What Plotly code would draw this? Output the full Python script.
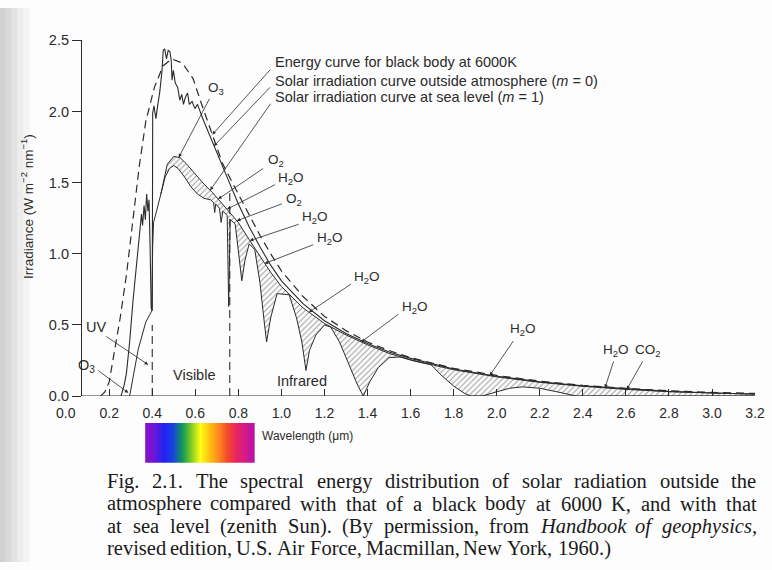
import plotly.graph_objects as go
import numpy as np

# ---------------------------------------------------------------
# Spectral irradiance (W m^-2 nm^-1) against wavelength (um)
# ---------------------------------------------------------------
# Black body at 6000 K (dashed)
bb_wl = [0.16, 0.18, 0.20, 0.22, 0.25, 0.28, 0.31, 0.34, 0.37, 0.41, 0.45, 0.49, 0.54,
         0.59, 0.625, 0.66, 0.69, 0.725, 0.765, 0.80, 0.85, 0.90, 0.95, 1.00, 1.10,
         1.20, 1.30, 1.40, 1.50, 1.60, 1.80, 2.00, 2.20, 2.40, 2.60, 2.80, 3.00, 3.20]
bb_irr = [0.0, 0.03, 0.10, 0.27, 0.54, 0.85, 1.25, 1.62, 1.93, 2.17, 2.32, 2.37, 2.34,
          2.23, 2.07, 1.92, 1.79, 1.64, 1.52, 1.42, 1.27, 1.13, 1.00, 0.88, 0.70,
          0.56, 0.46, 0.38, 0.32, 0.27, 0.195, 0.145, 0.105, 0.076, 0.054, 0.037, 0.026, 0.019]

# Solar irradiation outside the atmosphere (m = 0)
m0_wl = [0.255, 0.27, 0.28, 0.295, 0.31, 0.33, 0.345, 0.35, 0.355, 0.362, 0.368, 0.374,
         0.38, 0.385, 0.39, 0.395, 0.40, 0.402, 0.408, 0.417, 0.426, 0.435, 0.445, 0.451,
         0.458, 0.466, 0.474, 0.482, 0.488, 0.492, 0.498, 0.507, 0.518, 0.528, 0.537,
         0.545, 0.554, 0.564, 0.572, 0.585, 0.598, 0.61, 0.64, 0.67, 0.70, 0.75, 0.80,
         0.85, 0.90, 0.95, 1.00, 1.10, 1.20, 1.30, 1.40, 1.50, 1.60, 1.80, 2.00, 2.20,
         2.40, 2.60, 2.80, 3.00, 3.20]
m0_irr = [0.0, 0.08, 0.16, 0.38, 0.66, 0.95, 1.18, 1.28, 1.20, 1.34, 1.24, 1.42,
          1.30, 1.38, 1.05, 0.62, 0.60, 1.99, 2.04, 1.95, 2.05, 2.14, 2.28, 2.43,
          2.44, 2.37, 2.43, 2.42, 2.36, 2.22, 2.29, 2.20, 2.17, 2.08, 2.12,
          2.05, 2.10, 2.13, 2.05, 2.07, 2.02, 2.05, 1.93, 1.82, 1.70, 1.53, 1.35,
          1.19, 1.05, 0.92, 0.81, 0.65, 0.53, 0.44, 0.37, 0.31, 0.265, 0.19, 0.14, 0.10,
          0.072, 0.05, 0.033, 0.022, 0.015]

# Sea level (m = 1), smooth curve above the absorption bands
env_wl = [0.44, 0.47, 0.50, 0.53, 0.56, 0.60, 0.64, 0.68, 0.72, 0.76, 0.80, 0.85, 0.90,
          0.95, 1.00, 1.10, 1.20, 1.30, 1.40, 1.50, 1.60, 1.80, 2.00, 2.20, 2.40, 2.60,
          2.80, 3.00, 3.20]
env_irr = [1.42, 1.63, 1.685, 1.675, 1.63, 1.56, 1.49, 1.43, 1.36, 1.29, 1.22, 1.10, 0.98,
           0.87, 0.77, 0.62, 0.51, 0.43, 0.36, 0.30, 0.255, 0.185, 0.135, 0.097, 0.069,
           0.047, 0.031, 0.02, 0.013]

# Sea level (m = 1), with absorption
m1_wl = [0.295, 0.31, 0.335, 0.37, 0.398, 0.402, 0.406, 0.42, 0.44, 0.46, 0.48, 0.50,
         0.52, 0.55, 0.58, 0.61, 0.64, 0.67, 0.685, 0.69, 0.695, 0.712, 0.72, 0.728,
         0.748, 0.755, 0.762, 0.785, 0.80, 0.816, 0.83, 0.85, 0.876, 0.90, 0.918, 0.931,
         0.95, 0.98, 1.036, 1.07, 1.095, 1.114, 1.13, 1.16, 1.20, 1.229, 1.27, 1.32,
         1.35, 1.38, 1.41, 1.45, 1.50, 1.55, 1.62, 1.695, 1.74, 1.80, 1.85, 1.88, 1.93,
         2.00, 2.06, 2.12, 2.20, 2.28, 2.37, 3.20]
m1_irr = [0.0, 0.12, 0.33, 0.52, 0.60, 1.05, 1.22, 1.30, 1.42, 1.54, 1.60, 1.62,
          1.60, 1.54, 1.47, 1.42, 1.39, 1.38, 1.36, 1.29, 1.35, 1.32, 1.22, 1.30,
          1.27, 0.63, 1.24, 1.21, 1.02, 0.81, 0.95, 1.07, 1.03, 0.80, 0.55, 0.38,
          0.55, 0.72, 0.712, 0.55, 0.38, 0.18, 0.32, 0.43, 0.50, 0.485, 0.38, 0.20,
          0.09, 0.0, 0.10, 0.20, 0.27, 0.275, 0.245, 0.22, 0.15, 0.07, 0.02, 0.0, 0.0,
          0.03, 0.055, 0.065, 0.055, 0.03, 0.0, 0.0]

# Limits of the visible band, and how far up their dashed markers reach
visible_edges = [0.40, 0.76]
visible_edge_tops = [0.50, 1.45]

x_tick_vals = [0.2, 0.4, 0.6, 0.8, 1.0, 1.2, 1.4, 1.6, 1.8, 2.0, 2.2, 2.4, 2.6, 2.8, 3.0, 3.2]
x_tick_text = ["0.2", "0.4", "0.6", "0.8", "1.0", "1.2", "1.4", "1.6", "1.8", "2.0",
               "2.2", "2.4", "2.6", "2.8", "3.0", "3.2"]
y_tick_vals = [0.0, 0.5, 1.0, 1.5, 2.0, 2.5]
y_tick_text = ["0.0", "0.5", "1.0", "1.5", "2.0", "2.5"]

# Curve call-outs: text lines with leader arrows
curve_labels = ["Energy curve for black body at 6000K",
                "Solar irradiation curve outside atmosphere (<i>m</i> = 0)",
                "Solar irradiation curve at sea level (<i>m</i> = 1)"]
curve_label_wl = [0.962, 0.962, 0.962]
curve_label_irr = [2.345, 2.215, 2.099]
curve_tail_wl = [0.954, 0.954, 0.954]
curve_tail_irr = [2.304, 2.181, 2.065]
curve_tip_wl = [0.679, 0.686, 0.669]

# Absorption-band call-outs
band_labels = ["O<sub>3</sub>", "O<sub>2</sub>", "H<sub>2</sub>O", "O<sub>2</sub>",
               "H<sub>2</sub>O", "H<sub>2</sub>O", "H<sub>2</sub>O", "H<sub>2</sub>O",
               "H<sub>2</sub>O", "H<sub>2</sub>O", "CO<sub>2</sub>"]
band_label_wl = [0.697, 0.977, 1.045, 1.059, 1.155, 1.224, 1.398, 1.619, 2.123, 2.554, 2.701]
band_label_irr = [2.16, 1.655, 1.530, 1.385, 1.252, 1.109, 0.836, 0.624, 0.467, 0.317, 0.317]
band_tail_wl = [0.669, 0.922, 0.977, 1.009, 1.087, 1.155, 1.330, 1.550, 2.082, 2.545, 2.682]
band_tail_irr = [2.099, 1.607, 1.491, 1.355, 1.211, 1.068, 0.794, 0.583, 0.398, 0.255, 0.255]
band_tip_wl = [0.523, 0.706, 0.747, 0.793, 0.853, 0.922, 1.128, 1.371, 1.967, 2.503, 2.604]

# Region labels near the axis, some with arrows
region_labels = ["UV", "O<sub>3</sub>", "Visible", "Infrared"]
region_label_wl = [0.138, 0.096, 0.596, 1.096]
region_label_irr = [0.487, 0.214, 0.146, 0.105]
region_tail_wl = [0.179, 0.142]
region_tail_irr = [0.426, 0.187]
region_tip_wl = [0.381, 0.289]
region_tip_irr = [0.221, 0.023]

# Visible spectrum strip, violet to red
spectrum_colors = ["#8e10c4", "#6a18dc", "#2222f2", "#1840e0", "#129a58", "#86cc22",
                   "#ffff14", "#ffc012", "#ff8a1e", "#f24a2c", "#e82460", "#d41a8a", "#b010b0"]

caption_lines = [
    "Fig. 2.1. The spectral energy distribution of solar radiation outside the",
    "atmosphere compared with that of a black body at 6000 K, and with that",
    "at sea level (zenith Sun). (By permission, from *Handbook *of *geophysics,",
    "revised edition, U.S. Air Force, Macmillan, New York, 1960.)",
]
caption_justified = [True, True, True, False]

# ---------------------------------------------------------------
# Page geometry (pixels)
# ---------------------------------------------------------------
W, H = 772, 570
PLOT_L, PLOT_R = 67, 765          # wavelength 0 .. 3.2
PLOT_B, PLOT_T = 399.3, 33.3      # irradiance 0 .. 2.5
YAXIS_PX = 82                     # where the irradiance axis is drawn
INK = "#2b2b2b"
SANS = "Liberation Sans"
SERIF = "Liberation Serif"
LABEL_SIZE = 14.5
BAND_SIZE = 13.5


def fx(p):
    return p / W


def fy(p):
    return 1 - p / H


fig = go.Figure()

# Hatched absorption: between the smooth sea-level curve and the absorbed one
m1_arr = np.array(m1_wl)
mask = m1_arr >= env_wl[0]
fig.add_trace(go.Scatter(x=env_wl, y=env_irr, mode="lines", line=dict(width=0),
                         hoverinfo="skip", showlegend=False))
fig.add_trace(go.Scatter(x=m1_arr[mask], y=np.array(m1_irr)[mask], mode="lines",
                         line=dict(width=0), fill="tonexty",
                         fillcolor="rgba(0,0,0,0)",
                         fillpattern=dict(shape="/", fgcolor="#444444",
                                          bgcolor="rgba(0,0,0,0)", size=4, solidity=0.28),
                         hoverinfo="skip", showlegend=False))

fig.add_trace(go.Scatter(x=bb_wl, y=bb_irr, mode="lines", name="Black body 6000 K",
                         line=dict(color=INK, width=1.2, dash="8px,5px"), showlegend=False))
fig.add_trace(go.Scatter(x=m0_wl, y=m0_irr, mode="lines", name="m = 0",
                         line=dict(color=INK, width=1.1), showlegend=False))
fig.add_trace(go.Scatter(x=env_wl, y=env_irr, mode="lines", name="m = 1 envelope",
                         line=dict(color=INK, width=1.0), showlegend=False))
fig.add_trace(go.Scatter(x=m1_wl, y=m1_irr, mode="lines", name="m = 1",
                         line=dict(color=INK, width=1.0), showlegend=False))

for edge, top in zip(visible_edges, visible_edge_tops):
    fig.add_trace(go.Scatter(x=[edge, edge], y=[0, top], mode="lines",
                             line=dict(color=INK, width=1.1, dash="8px,5px"),
                             hoverinfo="skip", showlegend=False))

# Spectrum strip under the axis
n_col = len(spectrum_colors)
fig.add_trace(go.Heatmap(
    x=list(range(n_col)), y=[0, 1], z=[list(range(n_col)), list(range(n_col))],
    colorscale=[[i / (n_col - 1), c] for i, c in enumerate(spectrum_colors)],
    zsmooth="best", showscale=False, hoverinfo="skip", xaxis="x2", yaxis="y2"))

annotations = []
font_lab = dict(family=SANS, size=LABEL_SIZE, color=INK)
font_band = dict(family=SANS, size=BAND_SIZE, color=INK)


def arrow(tail_x, tail_y, tip_x, tip_y):
    return dict(x=tip_x, y=tip_y, ax=tail_x, ay=tail_y, xref="x", yref="y",
                axref="x", ayref="y", text="", showarrow=True, arrowhead=2,
                arrowsize=0.9, arrowwidth=0.8, arrowcolor=INK)


curve_tip_irr = [np.interp(curve_tip_wl[0], bb_wl, bb_irr),
                 np.interp(curve_tip_wl[1], m0_wl, m0_irr),
                 np.interp(curve_tip_wl[2], env_wl, env_irr)]
for t, lx, ly, tx, ty, hx, hy in zip(curve_labels, curve_label_wl, curve_label_irr,
                                     curve_tail_wl, curve_tail_irr, curve_tip_wl, curve_tip_irr):
    annotations.append(dict(x=lx, y=ly, xref="x", yref="y", text=t, showarrow=False,
                            xanchor="left", yanchor="middle", font=font_lab))
    annotations.append(arrow(tx, ty, hx, hy))

for t, lx, ly, tx, ty, hx in zip(band_labels, band_label_wl, band_label_irr,
                                 band_tail_wl, band_tail_irr, band_tip_wl):
    annotations.append(dict(x=lx, y=ly, xref="x", yref="y", text=t, showarrow=False,
                            xanchor="center", yanchor="middle", borderpad=0, font=font_band))
    annotations.append(arrow(tx, ty, hx, float(np.interp(hx, env_wl, env_irr))))

for t, lx, ly in zip(region_labels, region_label_wl, region_label_irr):
    annotations.append(dict(x=lx, y=ly, xref="x", yref="y", text=t, showarrow=False,
                            xanchor="center", yanchor="middle", font=font_lab))
for tx, ty, hx, hy in zip(region_tail_wl, region_tail_irr, region_tip_wl, region_tip_irr):
    annotations.append(arrow(tx, ty, hx, hy))

# Origin label of the wavelength scale
annotations.append(dict(x=0.0, y=0.0, xref="x", yref="y", text="0.0", showarrow=False,
                        xanchor="center", yanchor="top", yshift=-7,
                        font=dict(family=SANS, size=14, color=INK)))

# Axis titles
annotations.append(dict(x=fx(28), y=fy(204), xref="paper", yref="paper",
                        xanchor="center", yanchor="middle",
                        text="Irradiance (W m<sup>\u22122</sup> nm<sup>\u22121</sup>)",
                        textangle=-90, showarrow=False,
                        font=dict(family=SANS, size=13.5, color=INK)))
annotations.append(dict(x=fx(312), y=fy(440), xref="paper", yref="paper",
                        xanchor="center", yanchor="middle",
                        text="Wavelength (\u03bcm)", showarrow=False,
                        font=dict(family=SANS, size=12, color=INK)))

# Caption: Times-metric word widths so the lines can be set justified
ROMAN = {" ": 250, ".": 250, ",": 250, "(": 333, ")": 333, "-": 333,
         "a": 444, "b": 500, "c": 444, "d": 500, "e": 444, "f": 333, "g": 500, "h": 500,
         "i": 278, "j": 278, "k": 500, "l": 278, "m": 778, "n": 500, "o": 500, "p": 500,
         "q": 500, "r": 333, "s": 389, "t": 278, "u": 500, "v": 500, "w": 722, "x": 500,
         "y": 500, "z": 444, "A": 722, "B": 667, "F": 556, "H": 722, "K": 722, "M": 889,
         "N": 722, "S": 556, "T": 611, "U": 722, "Y": 722}
ITALIC = {",": 250, "H": 722, "a": 500, "b": 500, "c": 444, "d": 500, "e": 444, "f": 278,
          "g": 500, "h": 500, "i": 278, "k": 444, "n": 500, "o": 500, "p": 500, "s": 389,
          "y": 444}
CAP_SIZE = 20.5
CAP_L, CAP_R = 107, 765
CAP_Y = [487, 510, 533, 556]


def word_px(word, italic):
    table = ITALIC if italic else ROMAN
    return sum(table.get(ch, 500) for ch in word) * CAP_SIZE / 1000.0


for line, just, ly in zip(caption_lines, caption_justified, CAP_Y):
    words = []
    for w in line.split(" "):
        ital = w.startswith("*")
        words.append((w.lstrip("*"), ital))
    widths = [word_px(w, i) for w, i in words]
    if just:
        gap = (CAP_R - CAP_L - sum(widths)) / (len(words) - 1)
    else:
        gap = ROMAN[" "] * CAP_SIZE / 1000.0
    xpos = CAP_L
    for (w, ital), wd in zip(words, widths):
        annotations.append(dict(x=fx(xpos), y=fy(ly), xref="paper", yref="paper",
                                text=f"<i>{w}</i>" if ital else w, showarrow=False,
                                xanchor="left", yanchor="middle", borderpad=0,
                                font=dict(family=SERIF, size=CAP_SIZE, color="#1a1a1a")))
        xpos += wd + gap

# Scanned-page shading along the left edge
shapes = []
for x0, x1, col in [(0, 6, "#d2d2d2"), (6, 12, "#dadada"), (12, 18, "#e3e3e3"),
                    (18, 24, "#ececec"), (24, 30, "#f4f4f4")]:
    shapes.append(dict(type="rect", xref="paper", yref="paper", x0=fx(x0), x1=fx(x1),
                       y0=0, y1=1, fillcolor=col, line=dict(width=0), layer="below"))

# Wavelength baseline from the irradiance axis to the end of the scale
shapes.append(dict(type="line", xref="paper", yref="y", x0=fx(YAXIS_PX), x1=fx(PLOT_R),
                   y0=0, y1=0, line=dict(color=INK, width=1.1)))

fig.update_layout(
    width=W, height=H, autosize=False,
    margin=dict(l=0, r=0, t=0, b=0, pad=0),
    paper_bgcolor="#fdfdfd", plot_bgcolor="rgba(0,0,0,0)",
    font=dict(family=SANS, size=13, color=INK),
    showlegend=False,
    xaxis=dict(domain=[fx(PLOT_L), fx(PLOT_R)], range=[0, 3.2], anchor="y",
               showline=False, showgrid=False, zeroline=False,
               ticks="inside", ticklen=7, tickwidth=1, tickcolor=INK,
               tickvals=x_tick_vals, ticktext=x_tick_text, ticklabelstandoff=7,
               ticklabeloverflow="allow",
               tickfont=dict(family=SANS, size=14, color=INK)),
    yaxis=dict(domain=[fy(PLOT_B), fy(PLOT_T)], range=[0, 2.5], anchor="free",
               position=fx(YAXIS_PX), showline=True, linecolor=INK, linewidth=1.1,
               showgrid=False, zeroline=False, ticks="outside", ticklen=9, tickwidth=1,
               tickcolor=INK, tickvals=y_tick_vals, ticktext=y_tick_text,
               tickfont=dict(family=SANS, size=14.5, color=INK)),
    xaxis2=dict(domain=[fx(147), fx(258)], range=[0, n_col - 1], anchor="y2",
                visible=False, fixedrange=True),
    yaxis2=dict(domain=[fy(468), fy(427)], range=[0, 1], anchor="x2",
                visible=False, fixedrange=True),
    annotations=annotations,
    shapes=shapes,
)

# The page body gets no margin so the figure fills the window exactly
fig.write_html("out.html",
               post_script="document.body.style.margin='0';"
                           "document.body.style.padding='0';"
                           "document.body.style.overflow='hidden';")
